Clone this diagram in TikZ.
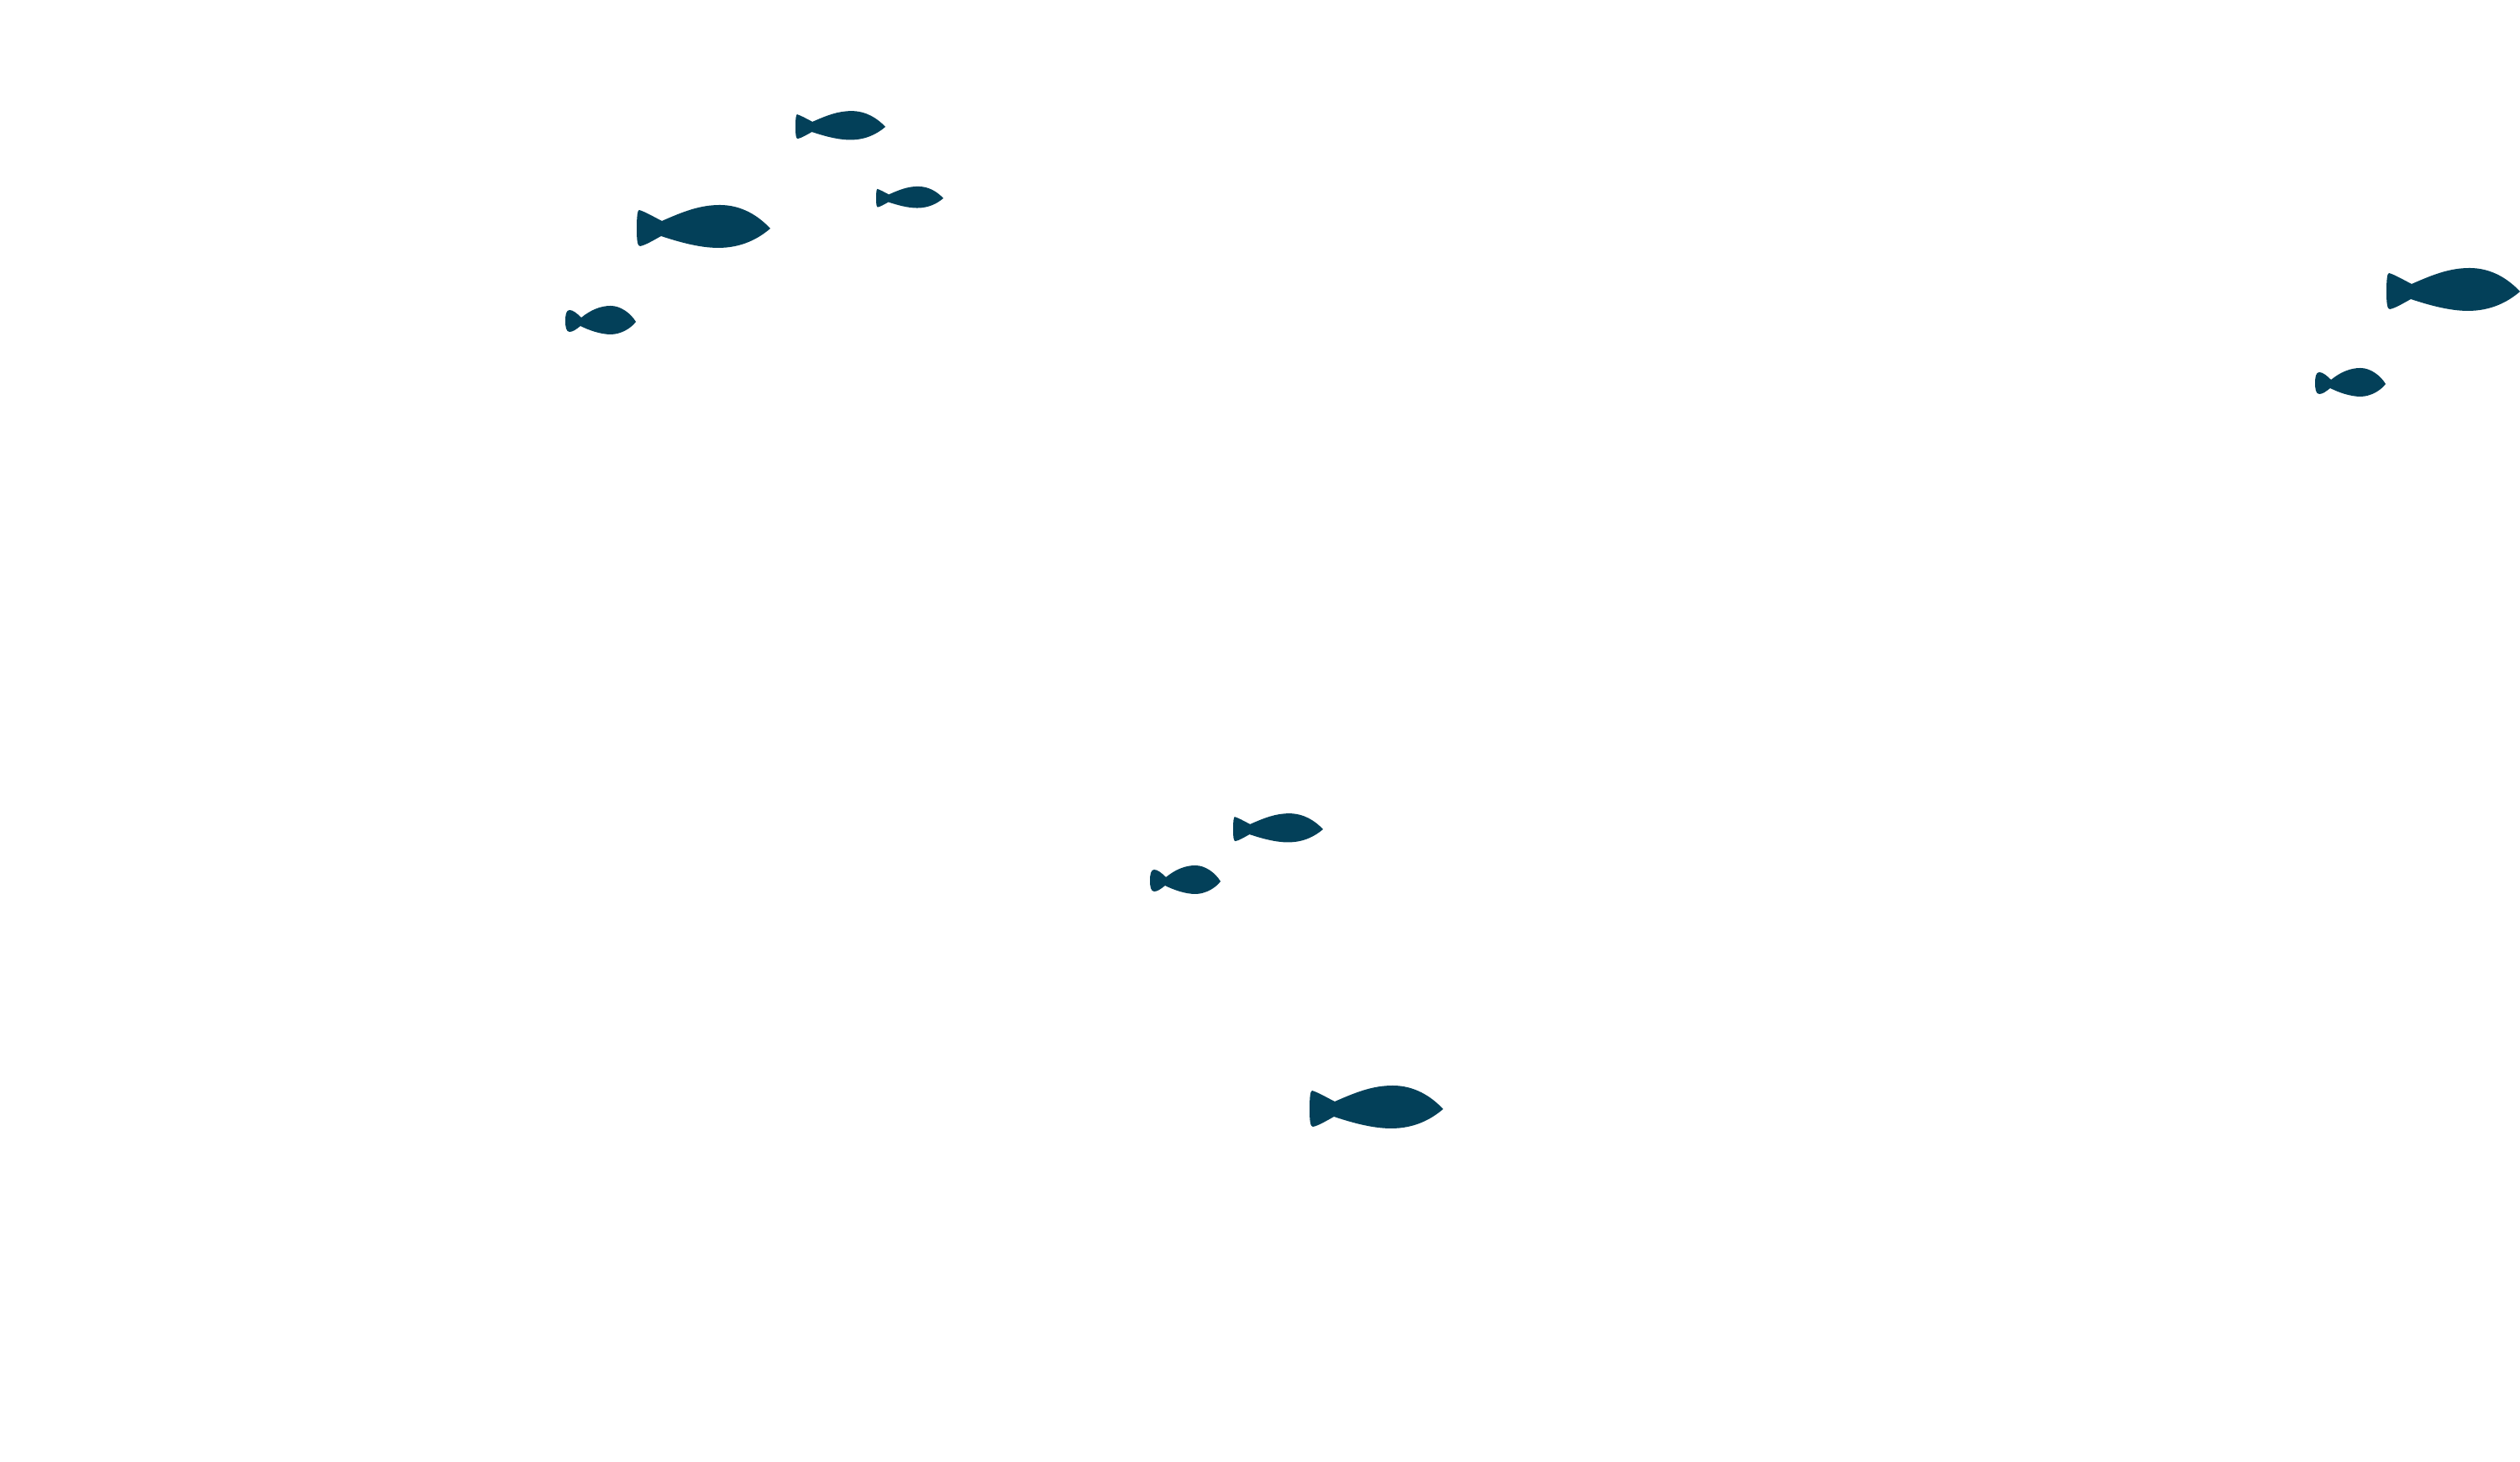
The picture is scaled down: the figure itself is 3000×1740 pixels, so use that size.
\documentclass[tikz,border=0pt]{standalone}
\usepackage{xcolor}
\definecolor{deepsea}{RGB}{3,64,89}

\tikzset{
  fish/.pic={
    \fill[deepsea] (30,9) .. controls (55,20) and (75,28) .. (99,28)
      .. controls (125,28) and (145,15) .. (159,0)
      .. controls (145,-12) and (125,-23) .. (97,-23)
      .. controls (75,-23) and (50,-16) .. (29,-9)
      .. controls (20,-14) and (10,-20) .. (4,-21)
      .. controls (1,-21) and (0,-15) .. (0,0)
      .. controls (0,15) and (1,22) .. (3,22)
      .. controls (10,20) and (20,14) .. (30,9) -- cycle;
  },
  fry/.pic={
    \fill[deepsea] (19,5) .. controls (30,14) and (42,19) .. (54,19)
      .. controls (66,19) and (78,10) .. (84,0)
      .. controls (78,-8) and (66,-15) .. (54,-15)
      .. controls (42,-15) and (28,-10) .. (18,-5)
      .. controls (13,-9) and (9,-12) .. (5,-12)
      .. controls (1,-12) and (0,-6) .. (0,1)
      .. controls (0,8) and (1,14) .. (5,14)
      .. controls (9,14) and (14,10) .. (19,5) -- cycle;
  }
}

\begin{document}
\begin{tikzpicture}[x=0.1mm,y=0.1mm]
\useasboundingbox (0,0) rectangle (3000,1740);

% school at the top left
\pic at (758,1468) {fish};
\pic[scale=0.673] at (947,1589) {fish};
\pic[scale=0.503] at (1043,1504) {fish};
\pic at (673,1357) {fry};

% two at the right edge
\pic at (2841,1393) {fish};
\pic at (2756,1283) {fry};

% lower group
\pic[scale=0.673] at (1468,753) {fish};
\pic at (1369,691) {fry};
\pic at (1559,420) {fish};

\end{tikzpicture}
\end{document}
